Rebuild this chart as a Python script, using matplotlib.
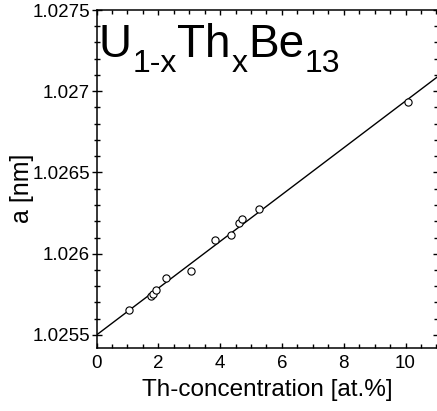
import matplotlib
matplotlib.use("Agg")
import matplotlib.pyplot as plt
from matplotlib.ticker import MultipleLocator, FuncFormatter

# ---- data ----
th_conc = [1.05, 1.75, 1.83, 1.91, 2.25, 3.06, 3.85, 4.36, 4.61, 4.72, 5.25, 10.09]
lattice_a = [1.025654, 1.025740, 1.025750, 1.025777, 1.025853, 1.025896,
             1.026085, 1.026115, 1.026191, 1.026211, 1.026274, 1.026932]
fit_intercept = 1.02550
fit_slope = 0.000144
x_label = "Th-concentration [at.%]"
y_label = "a [nm]"
formula_parts = ["U", "1-x", "Th", "x", "Be", "13"]   # alternating main / subscript

plt.rcParams['font.family'] = ['Liberation Sans', 'DejaVu Sans']

W, H = 437, 411
fig = plt.figure(figsize=(W / 100, H / 100), dpi=100)
ax = fig.add_axes([96.5 / W, 63 / H, (438 - 96.5) / W, 338 / H])

ax.plot(th_conc, lattice_a, linestyle='none', marker='o', markersize=5.2,
        markerfacecolor='white', markeredgecolor='black', markeredgewidth=0.8, zorder=3)
ax.axline((0, fit_intercept), slope=fit_slope, color='black', linewidth=1.0, zorder=2)

ax.set_xlim(0, 11.05)
ax.set_ylim(1.02542, 1.0275)

ax.xaxis.set_major_locator(MultipleLocator(2))
ax.xaxis.set_minor_locator(MultipleLocator(0.5))
ax.yaxis.set_major_locator(MultipleLocator(0.0005))
ax.yaxis.set_minor_locator(MultipleLocator(0.0001))
ax.yaxis.set_major_formatter(FuncFormatter(lambda v, p: f"{v:.4f}".rstrip('0')))

for s in ax.spines.values():
    s.set_linewidth(1.1)

ax.tick_params(axis='x', which='both', direction='in', top=True, bottom=True,
               labelsize=13.5, pad=5, width=1.0)
ax.tick_params(axis='x', which='major', length=3.8)
ax.tick_params(axis='x', which='minor', length=2.6)
ax.tick_params(axis='y', which='both', direction='inout', left=True, right=False,
               labelsize=13.5, pad=1.5, width=1.0)
ax.tick_params(axis='y', which='major', length=6.5)
ax.tick_params(axis='y', which='minor', length=4.3)

sec = ax.secondary_yaxis('right')
sec.yaxis.set_major_locator(MultipleLocator(0.0005))
sec.yaxis.set_minor_locator(MultipleLocator(0.0001))
sec.tick_params(axis='y', which='both', direction='in', labelright=False, width=1.0)
sec.tick_params(axis='y', which='major', length=3.8)
sec.tick_params(axis='y', which='minor', length=2.6)

ax.set_xlabel(x_label, fontsize=17.5, ha='center', va='center')
ax.xaxis.set_label_coords(0.5007, -0.124)
ax.set_ylabel(y_label, fontsize=18, ha='center', va='center')
ax.yaxis.set_label_coords(-0.218, 0.472)

# ---- title formula: main text and subscripts laid out in sequence ----
fig.canvas.draw()
renderer = fig.canvas.get_renderer()
xpos = 99.0
for i, part in enumerate(formula_parts):
    is_sub = (i % 2 == 1)
    fs = 23 if is_sub else 33
    base = 72 if is_sub else 57
    t = fig.text(xpos / W, 1 - base / H, part, fontsize=fs,
                 ha='left', va='baseline')
    bb = t.get_window_extent(renderer)
    xpos = bb.x1 + 0.5

fig.savefig("out.png", dpi=100)
